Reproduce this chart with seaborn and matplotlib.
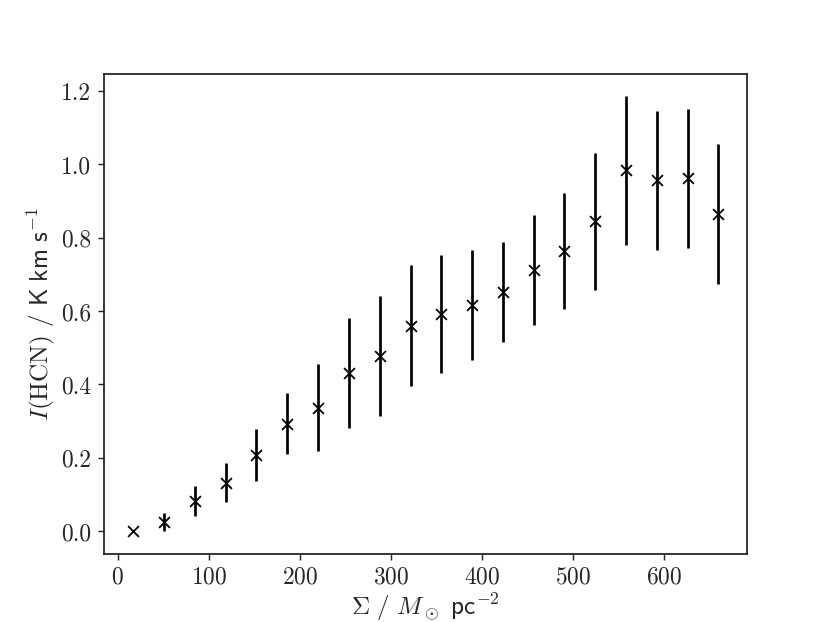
import matplotlib.pyplot as plt
import pandas as pd
import seaborn as sns

# binned surface density (M_sun pc^-2)
sigma = [17, 51, 85, 119, 152, 186, 220, 254, 288, 322,
         355, 389, 423, 457, 490, 524, 558, 592, 626, 659]
# mean HCN intensity (K km/s) and its spread
i_hcn = [0.001, 0.025, 0.081, 0.132, 0.207, 0.293, 0.336, 0.431, 0.477, 0.559,
         0.592, 0.616, 0.651, 0.711, 0.763, 0.844, 0.983, 0.956, 0.961, 0.864]
i_err = [0.003, 0.024, 0.041, 0.052, 0.070, 0.084, 0.119, 0.149, 0.164, 0.165,
         0.160, 0.151, 0.137, 0.150, 0.158, 0.187, 0.203, 0.190, 0.190, 0.192]


def main() -> None:
    sns.set_theme(style="ticks")
    plt.rcParams.update({
        "font.family": "serif",
        "font.serif": ["cmr10", "DejaVu Serif"],
        "mathtext.fontset": "cm",
        "axes.formatter.use_mathtext": True,
        "axes.unicode_minus": False,
        "xtick.labelsize": 13,
        "ytick.labelsize": 13,
        "axes.labelsize": 14,
        "axes.linewidth": 1.0,
        "xtick.major.width": 0.8,
        "ytick.major.width": 0.8,
        "xtick.major.size": 3.5,
        "ytick.major.size": 3.5,
    })
    df = pd.DataFrame({"sigma": sigma, "ihcn": i_hcn, "err": i_err})

    fig, ax = plt.subplots(figsize=(6.4, 4.8), dpi=129.7)
    fig.subplots_adjust(left=0.125, right=0.9, top=0.88, bottom=0.11)
    ax.errorbar(df["sigma"], df["ihcn"], yerr=df["err"], fmt="none",
                ecolor="black", elinewidth=1.5, capsize=0)
    sns.scatterplot(data=df, x="sigma", y="ihcn", marker="x", color="black",
                    s=36, linewidth=1.0, ax=ax, zorder=3)

    ax.set_xlabel(r"$\Sigma\ /\ M_\odot$ $\mathsf{pc^{-2}}$", labelpad=1)
    ax.set_ylabel(r"$I(\mathrm{HCN})\ /$ $\mathsf{K\ km\ s^{-1}}$", labelpad=2)
    ax.set_xticks([0, 100, 200, 300, 400, 500, 600])
    ax.set_yticks([0.0, 0.2, 0.4, 0.6, 0.8, 1.0, 1.2])
    ax.set_yticklabels([f"{v:.1f}" for v in [0.0, 0.2, 0.4, 0.6, 0.8, 1.0, 1.2]])

    fig.savefig("out.png", dpi=129.7)
    plt.close(fig)


if __name__ == "__main__":
    main()
